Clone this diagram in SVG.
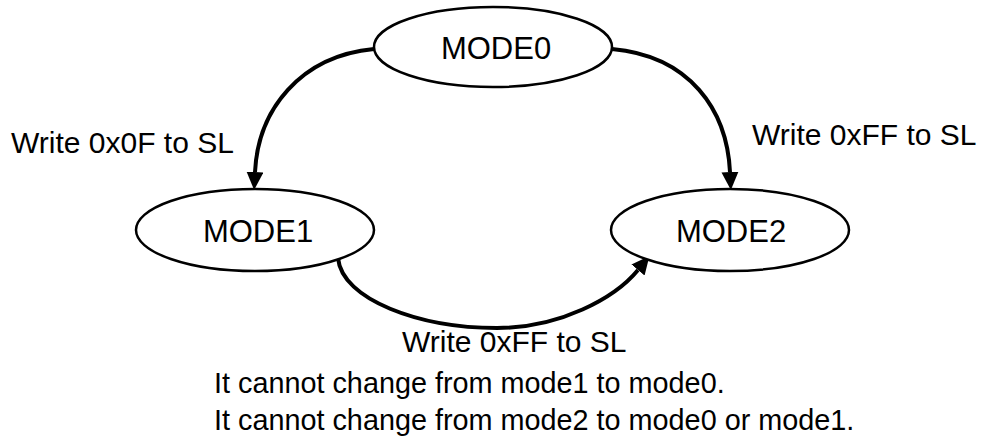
<svg xmlns="http://www.w3.org/2000/svg" width="996" height="440" viewBox="0 0 996 440">
  <style>
    .state { fill: #fff; stroke: #000; stroke-width: 2.5; }
    .name { font-family: "Liberation Sans", Arial, sans-serif; font-size: 31px; fill: #000; }
    .label { font-family: "Liberation Sans", Arial, sans-serif; font-size: 30px; fill: #000; }
    .note { font-family: "Liberation Sans", Arial, sans-serif; font-size: 28.8px; fill: #000; }
    .edge { fill: none; stroke: #000; stroke-width: 4; }
  </style>
  <defs>
    <marker id="arrow" markerUnits="userSpaceOnUse" markerWidth="20" markerHeight="20" refX="0" refY="8.5" orient="auto">
      <path d="M0,0 L18,8.5 L0,17 Z" fill="#000"/>
    </marker>
  </defs>
  <rect width="996" height="440" fill="#fff"/>

  <g id="connectors">
    <path class="edge" d="M374,49 C300,56 258,110 255,172" marker-end="url(#arrow)"/>
    <path class="edge" d="M612,49 C690,56 727,110 730,172" marker-end="url(#arrow)"/>
    <path class="edge" d="M338,258 C342,300 420,328 497,328 C560,328 615,298 638,270" marker-end="url(#arrow)"/>
  </g>

  <g id="mode0">
    <ellipse class="state" cx="493" cy="47" rx="119" ry="40"/>
    <text class="name" x="496" y="59" text-anchor="middle">MODE0</text>
  </g>
  <g id="mode1">
    <ellipse class="state" cx="255" cy="230" rx="119" ry="41"/>
    <text class="name" x="258" y="242" text-anchor="middle">MODE1</text>
  </g>
  <g id="mode2">
    <ellipse class="state" cx="730" cy="230" rx="119" ry="41"/>
    <text class="name" x="731" y="242" text-anchor="middle">MODE2</text>
  </g>

  <g id="edge-labels">
    <text class="label" x="11" y="153">Write 0x0F to SL</text>
    <text class="label" x="752" y="145">Write 0xFF to SL</text>
    <text class="label" x="402" y="352">Write 0xFF to SL</text>
  </g>

  <g id="notes">
    <text class="note" x="214" y="393">It cannot change from mode1 to mode0.</text>
    <text class="note" x="214" y="430">It cannot change from mode2 to mode0 or mode1.</text>
  </g>
</svg>
